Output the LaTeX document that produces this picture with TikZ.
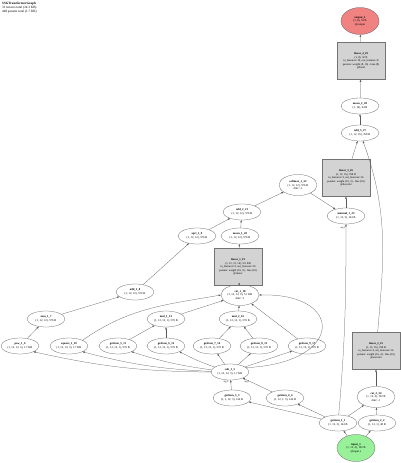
\documentclass[tikz,border=0pt]{standalone}
\usepackage{fontspec}
\setmainfont{Liberation Serif}
\usetikzlibrary{shapes.geometric,arrows.meta}
\definecolor{inputgreen}{RGB}{152,240,152}
\definecolor{outputred}{RGB}{240,130,130}
\definecolor{layergray}{RGB}{211,211,211}
\tikzset{
  op/.style={ellipse,draw=black!65,line width=0.25pt,minimum width=38pt,minimum height=16pt,inner sep=0.2pt,align=center,font=\fontsize{2.9}{3.5}\selectfont},
  opthree/.style={op,minimum height=21pt},
  layer/.style={rectangle,draw=black!55,fill=layergray,line width=0.25pt,minimum width=48pt,minimum height=37pt,inner sep=0.3pt,align=center,font=\fontsize{2.8}{3.4}\selectfont},
  inbox/.style={opthree,fill=inputgreen,minimum height=27pt},
  outbox/.style={opthree,fill=outputred,minimum height=27pt},
  edge/.style={draw=black!65,line width=0.25pt,-{Triangle[length=2.2pt,width=1.6pt]}},
  arglabel/.style={font=\fontsize{2.4}{2.8}\selectfont,inner sep=0pt}
}
\begin{document}
\begin{tikzpicture}[x=1pt,y=1pt]
  \useasboundingbox (0,0) rectangle (400,463);
  % header
  \node[anchor=north west,align=left,inner sep=0pt,font=\fontsize{3.3}{4}\selectfont] (title) at (2,461)
    {\textbf{SSGTransformerGraph}\\31 tensors total (24.3 KB)\\440 params total (1.7 KB)};
  % input part
  \node[inbox] (input1) at (356,15) {\textbf{input\_1}\\(1, 12, 4), 192 B\\@input.x};
  \node[op] (getitem1) at (338,40) {\textbf{getitem\_1\_1}\\(1, 12, 3), 144 B};
  \node[op] (getitem2) at (377,40) {\textbf{getitem\_2\_2}\\(1, 12, 1), 48 B};
  \node[opthree] (cat2) at (376,66) {\textbf{cat\_2\_24}\\(1, 12, 4), 192 B\\dim=-1};
  \node[layer] (linear2) at (376,112) {\textbf{linear\_2\_25}\\(1, 12, 16), 768 B\\in\_features=4, out\_features=16\\params: weight (16, 4) - bias (16)\\@encoder};
  \node[op] (getitem3) at (232,65) {\textbf{getitem\_3\_3}\\(1, 1, 12, 3), 144 B};
  \node[op] (getitem4) at (285,65) {\textbf{getitem\_4\_4}\\(1, 12, 1, 3), 144 B};
  \node[op] (sub1) at (230,91) {\textbf{sub\_1\_5}\\(1, 12, 12, 3), 1.7 KB};
  % relative features
  \node[op] (pow1) at (20,117) {\textbf{pow\_1\_6}\\(1, 12, 12, 3), 1.7 KB};
  \node[op] (square1) at (69,117) {\textbf{square\_1\_10}\\(1, 12, 12, 3), 1.7 KB};
  \node[op] (getitem5) at (118,117) {\textbf{getitem\_5\_11}\\(1, 12, 12, 1), 576 B};
  \node[op] (getitem6) at (166,117) {\textbf{getitem\_6\_12}\\(1, 12, 12, 1), 576 B};
  \node[op] (getitem7) at (212,117) {\textbf{getitem\_7\_14}\\(1, 12, 12, 1), 576 B};
  \node[op] (getitem8) at (259,117) {\textbf{getitem\_8\_15}\\(1, 12, 12, 1), 576 B};
  \node[op] (getitem9) at (307,117) {\textbf{getitem\_9\_17}\\(1, 12, 12, 1), 576 B};
  \node[op] (sum1) at (46,144) {\textbf{sum\_1\_7}\\(1, 12, 12), 576 B};
  \node[op] (mul1) at (166,144) {\textbf{mul\_1\_13}\\(1, 12, 12, 1), 576 B};
  \node[op] (mul2) at (238,144) {\textbf{mul\_2\_16}\\(1, 12, 12, 1), 576 B};
  \node[op] (add1) at (135,171) {\textbf{add\_1\_8}\\(1, 12, 12), 576 B};
  \node[opthree] (cat1) at (240,168) {\textbf{cat\_1\_18}\\(1, 12, 12, 9), 5.1 KB\\dim=-1};
  \node[layer] (linear1) at (238,196) {\textbf{linear\_1\_19}\\(1, 12, 12, 16), 9.0 KB\\in\_features=9, out\_features=16\\params: weight (16, 9) - bias (16)\\@mixer};
  % attention
  \node[op] (sqrt1) at (197,227) {\textbf{sqrt\_1\_9}\\(1, 12, 12), 576 B};
  \node[op] (mean1) at (240,227) {\textbf{mean\_1\_20}\\(1, 12, 12), 576 B};
  \node[op] (add2) at (242,251) {\textbf{add\_2\_21}\\(1, 12, 12), 576 B};
  \node[opthree] (softmax1) at (298,278) {\textbf{softmax\_1\_22}\\(1, 12, 12), 576 B\\dim=-1};
  \node[op] (matmul1) at (346,247) {\textbf{matmul\_1\_23}\\(1, 12, 3), 144 B};
  \node[layer] (linear3) at (346,285) {\textbf{linear\_3\_26}\\(1, 12, 16), 768 B\\in\_features=3, out\_features=16\\params: weight (16, 3) - bias (16)\\@decoder};
  % output part
  \node[op] (add3) at (360,330) {\textbf{add\_3\_27}\\(1, 12, 16), 768 B};
  \node[op] (mean2) at (360,357) {\textbf{mean\_2\_28}\\(1, 16), 64 B};
  \node[layer] (linear4) at (361,402) {\textbf{linear\_4\_29}\\(1, 8), 32 B\\in\_features=16, out\_features=8\\params: weight (8, 16) - bias (8)\\@head};
  \node[outbox] (output1) at (360,442) {\textbf{output\_1}\\(1, 8), 32 B\\@output};
  % edges
  \draw[edge] (input1) -- (getitem1);
  \draw[edge] (input1) -- (getitem2);
  \draw[edge] (getitem1) -- (cat2);
  \draw[edge] (getitem2) -- (cat2);
  \draw[edge] (cat2) -- (linear2);
  \draw[edge] (getitem1) -- (getitem3);
  \draw[edge] (getitem1) -- (getitem4);
  \draw[edge] (getitem3) -- (sub1);
  \draw[edge] (getitem4) -- (sub1);
  \node[arglabel] (argzero) at (226,81) {arg 0};
  \node[arglabel] (argone) at (247,81) {arg 1};
  \draw[edge] (sub1) to[bend left=6] (pow1.south east);
  \draw[edge] (sub1) to[bend left=6] (square1.south east);
  \draw[edge] (sub1) to[bend left=5] (getitem5.south east);
  \draw[edge] (sub1) to[bend left=4] (getitem6.south east);
  \draw[edge] (sub1) -- (getitem7);
  \draw[edge] (sub1) -- (getitem8);
  \draw[edge] (sub1) -- (getitem9);
  \draw[edge] (sub1.15) .. controls (345,100) and (345,170) .. (cat1.east);
  \draw[edge] (pow1) -- (sum1);
  \draw[edge] (sum1) -- (add1);
  \draw[edge] (add1) -- (sqrt1);
  \draw[edge] (getitem5) -- (mul1);
  \draw[edge] (getitem6) -- (mul1);
  \draw[edge] (getitem7) -- (mul2);
  \draw[edge] (getitem8) -- (mul2);
  \draw[edge] (square1.north east) to[out=35,in=190] (cat1.west);
  \draw[edge] (mul1) -- (cat1);
  \draw[edge] (mul2) -- (cat1);
  \draw[edge] (getitem9) -- (cat1);
  \draw[edge] (cat1) -- (linear1);
  \draw[edge] (linear1) -- (mean1);
  \draw[edge] (mean1) -- (add2);
  \draw[edge] (sqrt1) -- (add2);
  \draw[edge] (add2) -- (softmax1);
  \draw[edge] (softmax1) -- (matmul1);
  \draw[edge] (getitem1) to[out=85,in=-90] (matmul1);
  \node[arglabel] (argmat) at (343,235) {arg 1};
  \draw[edge] (matmul1) -- (linear3);
  \draw[edge] (linear3) -- (add3);
  \draw[edge] (linear2) to[out=85,in=-70] (add3);
  \draw[edge] (add3) -- (mean2);
  \draw[edge] (mean2) -- (linear4);
  \draw[edge] (linear4) -- (output1);
\end{tikzpicture}
\end{document}
